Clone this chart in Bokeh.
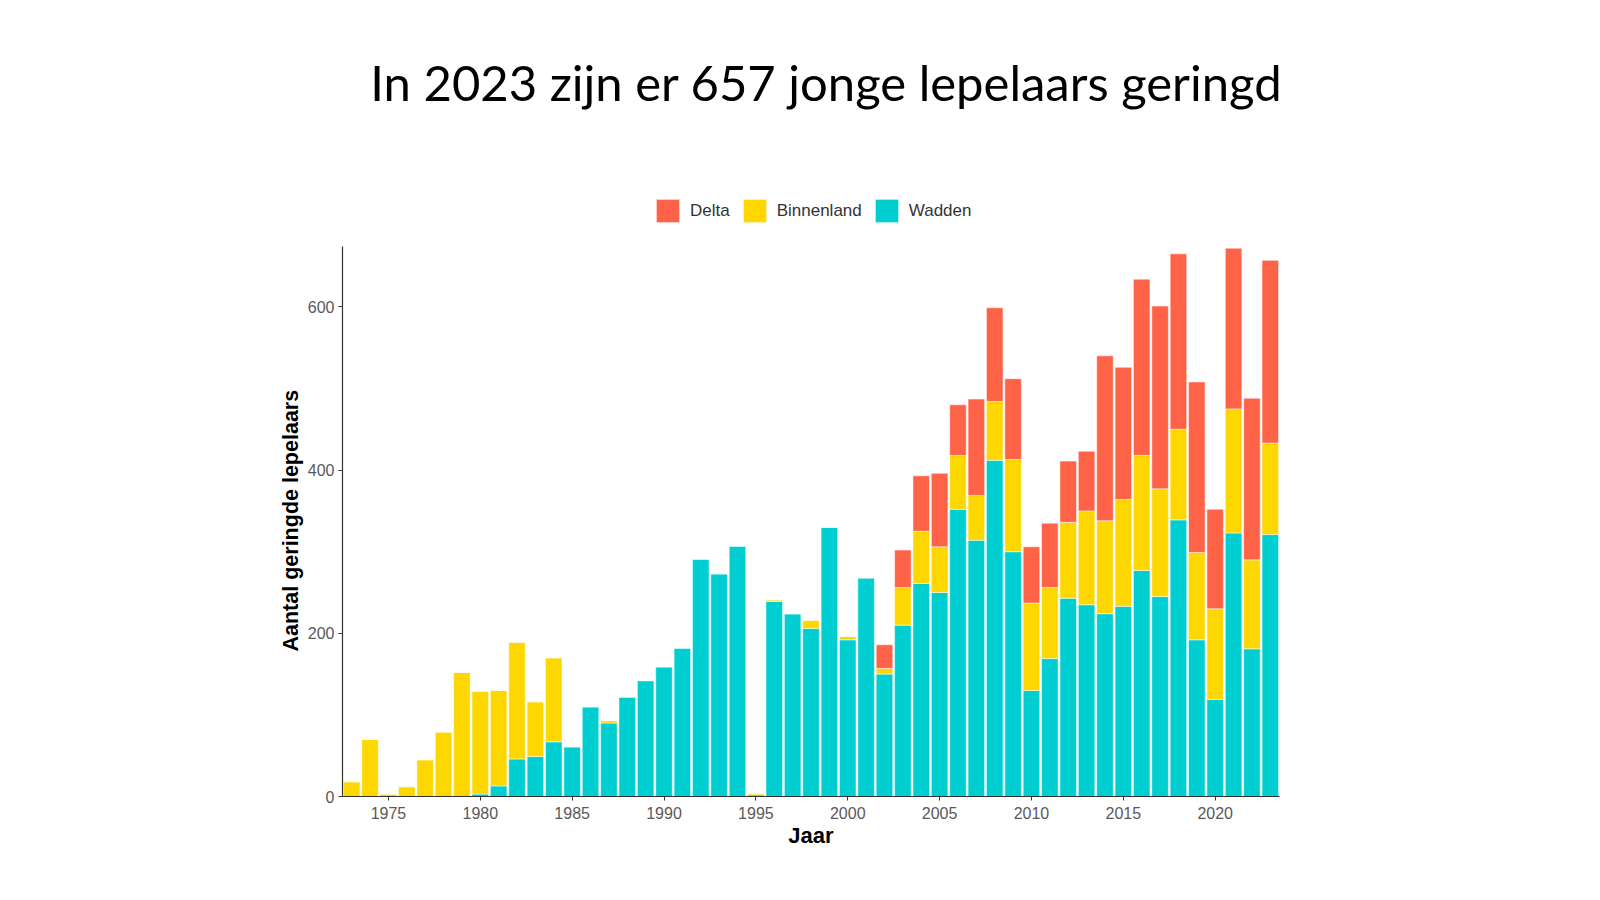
from bokeh.plotting import figure
from bokeh.models import ColumnDataSource, FixedTicker, Legend, LegendItem, Label, Range1d, Title
from bokeh.embed import file_html
from bokeh.resources import INLINE

years = list(range(1973, 2024))
wadden = [0, 0, 0, 0, 0, 0, 0, 3, 13, 46, 49, 67, 61, 110, 90, 122, 142, 159,
          182, 291, 273, 307, 2, 239, 224, 206, 330, 192, 268, 150, 210, 261,
          250, 352, 314, 412, 300, 130, 169, 243, 235, 224, 233, 277, 245, 339,
          192, 119, 323, 181, 321]
binnenland = [18, 70, 3, 12, 45, 79, 152, 126, 117, 143, 67, 103, 0, 0, 3, 0, 0, 0,
              0, 0, 0, 0, 2, 2, 0, 10, 0, 4, 0, 7, 46, 64,
              56, 66, 55, 72, 113, 107, 87, 93, 115, 114, 131, 141, 132, 111,
              107, 111, 152, 109, 112]
delta = [0] * 29 + [29, 46, 68, 90, 62, 118, 115, 99, 69, 79, 75, 73, 202, 162,
                    216, 224, 215, 209, 122, 197, 198, 224]
tick_years = [1975, 1980, 1985, 1990, 1995, 2000, 2005, 2010, 2015, 2020]
y_ticks = [0, 200, 400, 600]
y_max = 674
series = ["Delta", "Binnenland", "Wadden"]
colors = {"Delta": "#FF6347", "Binnenland": "#FFD700", "Wadden": "#00CED1"}

src = ColumnDataSource(dict(year=years, wadden=wadden, binnenland=binnenland, delta=delta))

FRAME_H = 796
AXIS_H = 550
p = figure(frame_width=937, frame_height=FRAME_H, output_backend="svg", toolbar_location=None,
           x_range=Range1d(1972.5, 2023.5), y_range=Range1d(0, y_max * FRAME_H / AXIS_H),
           min_border_left=342, min_border_right=321, min_border_top=0, min_border_bottom=104)
p.background_fill_color = "white"
p.border_fill_color = "white"
p.outline_line_color = None
p.grid.visible = False

rs = p.vbar_stack(["wadden", "binnenland", "delta"], x="year", width=0.9, source=src,
                  color=[colors["Wadden"], colors["Binnenland"], colors["Delta"]],
                  line_color="white", line_width=0.5)

items = [LegendItem(label=series[0], renderers=[rs[2]]),
         LegendItem(label=series[1], renderers=[rs[1]]),
         LegendItem(label=series[2], renderers=[rs[0]])]
legend = Legend(items=items, orientation="horizontal", location=(311, 571),
                glyph_width=29, glyph_height=29, label_standoff=8, spacing=10,
                padding=0, margin=0, border_line_color=None, background_fill_alpha=0,
                label_text_font="Liberation Sans", label_text_font_size="17px",
                label_text_color="#333333", label_height=29)
p.add_layout(legend)

for ax in (p.xaxis, p.yaxis):
    ax.axis_line_color = "#333333"
    ax.axis_line_width = 1.2
    ax.major_tick_line_color = "#333333"
    ax.major_tick_in = 0
    ax.major_tick_out = 4
    ax.minor_tick_line_color = None
    ax.major_label_text_font = "Liberation Sans"
    ax.major_label_text_font_size = "16px"
    ax.major_label_text_color = "#595959"
    ax.axis_label_text_font = "Liberation Sans"
    ax.axis_label_text_font_style = "bold"
    ax.axis_label_text_font_size = "22px"
    ax.axis_label_text_color = "#000000"

p.yaxis.bounds = (0, y_max)
p.xaxis.ticker = FixedTicker(ticks=tick_years)
p.yaxis.ticker = FixedTicker(ticks=y_ticks)
p.xaxis.axis_label = "Jaar"
p.xaxis.major_label_standoff = 6
p.yaxis.major_label_standoff = 4
p.xaxis.axis_label_standoff = 1

ylab = Title(text="Aantal geringde lepelaars", align="left", offset=145,
             text_font="Liberation Sans", text_font_style="bold",
             text_font_size="21.5px", text_color="#000000", standoff=4)
p.add_layout(ylab, "left")

title = Label(x=1998.84, y=875, text="In 2023 zijn er 657 jonge lepelaars geringd",
              text_font="Lato", text_font_size="49px", text_color="#000000",
              text_align="center", text_baseline="alphabetic")
p.add_layout(title)

open("out.html", "w").write(file_html(p, INLINE))
